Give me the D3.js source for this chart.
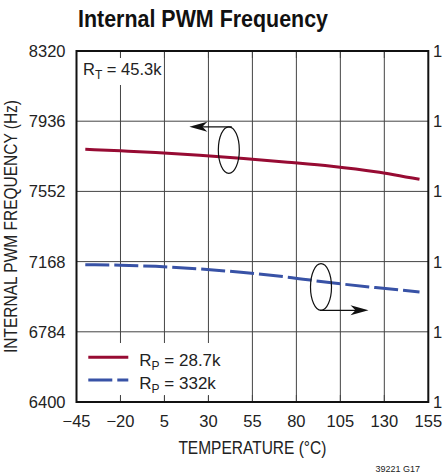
<!DOCTYPE html>
<html>
<head>
<meta charset="utf-8">
<script src="https://cdn.jsdelivr.net/npm/d3@7"></script>
<style>
  html, body { margin: 0; padding: 0; background: #fff; }
  svg { display: block; font-family: "Liberation Sans", Arial, Helvetica, sans-serif; }
</style>
</head>
<body>
<div id="chart"></div>
<script>
// Internal PWM frequency vs temperature

const temps = [-40, -20, 0, 25, 50, 75, 100, 125, 150];
const freqRp287k = [7782, 7774, 7765, 7750, 7732, 7712, 7690, 7660, 7618];
const freqRp332k = [7151, 7148, 7142, 7128, 7108, 7083, 7052, 7026, 7002];
const seriesNames = ['28.7k', '332k'];

const xTicks = [-45, -20, 5, 30, 55, 80, 105, 130, 155];
const yTicks = [6400, 6784, 7168, 7552, 7936, 8320];
const rightTickLabels = ['1', '1', '1', '1', '1', '1'];

// annotation ellipse centres, in data units
const annotations = [
    { t: 41.6, f: 7778, dir: -1 },
    { t: 94, f: 7029, dir: 1 }
];

const width = 443, height = 473;
const margin = { left: 76.5, right: 443 - 428.3, top: 51, bottom: 473 - 402 };

const svg = d3.select('#chart')
    .append('svg')
    .attr('width', width)
    .attr('height', height);

const x = d3.scaleLinear().domain([-45, 155]).range([margin.left, width - margin.right]);
const y = d3.scaleLinear().domain([6400, 8320]).range([height - margin.bottom, margin.top]);

const x0 = x.range()[0], x1 = x.range()[1];
const yTop = y.range()[1], yBot = y.range()[0];

// Title
svg.append('text')
    .attr('x', 78)
    .attr('y', 27)
    .attr('textLength', 250)
    .attr('lengthAdjust', 'spacingAndGlyphs')
    .style('font-size', '24px')
    .style('font-weight', 'bold')
    .style('fill', '#111')
    .text('Internal PWM Frequency');

// Grid
const grid = svg.append('g');
grid.selectAll('.vgrid')
    .data(xTicks.slice(1, -1))
    .enter()
    .append('line')
    .attr('x1', d => x(d)).attr('x2', d => x(d))
    .attr('y1', yTop).attr('y2', yBot)
    .attr('stroke', '#444')
    .attr('stroke-width', 1);

grid.selectAll('.hgrid')
    .data(yTicks.slice(1, -1))
    .enter()
    .append('line')
    .attr('x1', x0).attr('x2', x1)
    .attr('y1', d => y(d)).attr('y2', d => y(d))
    .attr('stroke', '#444')
    .attr('stroke-width', 1);

// white boxes behind the RT label and the legend
svg.append('rect')
    .attr('x', x0 + 1).attr('y', yTop + 7)
    .attr('width', 83).attr('height', 27)
    .attr('fill', '#fff');
svg.append('rect')
    .attr('x', x0 + 1).attr('y', 343)
    .attr('width', 165).attr('height', yBot - 6 - 343)
    .attr('fill', '#fff');

// tick marks at top and bottom
const ticks = svg.append('g');
xTicks.slice(1, -1).forEach(t => {
    ticks.append('line')
        .attr('x1', x(t)).attr('x2', x(t))
        .attr('y1', yTop).attr('y2', yTop + 7)
        .attr('stroke', '#444');
    ticks.append('line')
        .attr('x1', x(t)).attr('x2', x(t))
        .attr('y1', yBot - 7).attr('y2', yBot)
        .attr('stroke', '#444');
});

// Series
const line = d3.line()
    .x(d => x(d[0]))
    .y(d => y(d[1]))
    .curve(d3.curveMonotoneX);

svg.append('path')
    .datum(temps.map((t, i) => [t, freqRp287k[i]]))
    .attr('d', line)
    .attr('fill', 'none')
    .attr('stroke', '#970b33')
    .attr('stroke-width', 3);

svg.append('path')
    .datum(temps.map((t, i) => [t, freqRp332k[i]]))
    .attr('d', line)
    .attr('fill', 'none')
    .attr('stroke', '#3852a6')
    .attr('stroke-width', 3)
    .attr('stroke-dasharray', '24,5');

// Annotations (ellipse + arrow)
annotations.forEach(a => {
    const cx = x(a.t), cy = y(a.f);
    const rx = 10.5, ry = 23.3;
    svg.append('ellipse')
        .attr('cx', cx).attr('cy', cy)
        .attr('rx', rx).attr('ry', ry)
        .attr('fill', 'none')
        .attr('stroke', '#111')
        .attr('stroke-width', 1.2);

    const ay = a.dir < 0 ? cy - ry : cy + ry;
    const tip = a.dir < 0 ? cx - 39.5 : cx + 47.5;
    const start = a.dir < 0 ? cx + 3 : cx - 1;
    svg.append('line')
        .attr('x1', start).attr('x2', tip - a.dir * 10)
        .attr('y1', ay).attr('y2', ay)
        .attr('stroke', '#111')
        .attr('stroke-width', 1.2);
    const b = -a.dir;
    svg.append('path')
        .attr('d', `M${tip},${ay} L${tip + b * 18},${ay - 5} L${tip + b * 13},${ay} L${tip + b * 18},${ay + 5} Z`)
        .attr('fill', '#111');
});

// Frame
svg.append('rect')
    .attr('x', x0).attr('y', yTop)
    .attr('width', x1 - x0).attr('height', yBot - yTop)
    .attr('fill', 'none')
    .attr('stroke', '#111')
    .attr('stroke-width', 2);

// Y tick labels
svg.selectAll('.ylab')
    .data(yTicks)
    .enter()
    .append('text')
    .attr('x', 65.5)
    .attr('y', d => y(d))
    .attr('dy', '0.36em')
    .attr('text-anchor', 'end')
    .style('font-size', '16.5px')
    .style('fill', '#222')
    .text(d => d);

// right side labels (only the first digit fits the picture)
svg.selectAll('.rlab')
    .data(yTicks)
    .enter()
    .append('text')
    .attr('x', 433)
    .attr('y', d => y(d))
    .attr('dy', '0.36em')
    .style('font-size', '16.5px')
    .style('fill', '#222')
    .text((d, i) => rightTickLabels[i]);

// X tick labels
svg.selectAll('.xlab')
    .data(xTicks)
    .enter()
    .append('text')
    .attr('x', d => x(d))
    .attr('y', 426.5)
    .attr('text-anchor', 'middle')
    .style('font-size', '16.5px')
    .style('fill', '#222')
    .text(d => d < 0 ? '\u2212' + Math.abs(d) : d);

// Axis titles
svg.append('text')
    .attr('x', (x0 + x1) / 2)
    .attr('y', 454)
    .attr('text-anchor', 'middle')
    .attr('textLength', 148)
    .attr('lengthAdjust', 'spacingAndGlyphs')
    .style('font-size', '18px')
    .style('fill', '#222')
    .text('TEMPERATURE (°C)');

svg.append('text')
    .attr('transform', `translate(17.3, ${(yTop + yBot) / 2}) rotate(-90)`)
    .attr('text-anchor', 'middle')
    .attr('textLength', 253)
    .attr('lengthAdjust', 'spacingAndGlyphs')
    .style('font-size', '18px')
    .style('fill', '#222')
    .text('INTERNAL PWM FREQUENCY (Hz)');

// RT label
const rt = svg.append('text')
    .attr('x', 83)
    .attr('y', 75)
    .style('font-size', '16.5px')
    .style('fill', '#222');
rt.append('tspan').text('R');
rt.append('tspan').attr('dy', 4).style('font-size', '12px').text('T');
rt.append('tspan').attr('dy', -4).text(' = 45.3k');

// Legend
const legendRows = [
    { name: seriesNames[0], color: '#970b33', dash: null, y: 357.3 },
    { name: seriesNames[1], color: '#3852a6', dash: '24,5', y: 380 }
];
legendRows.forEach(r => {
    svg.append('line')
        .attr('x1', 88.3).attr('x2', 128.3)
        .attr('y1', r.y).attr('y2', r.y)
        .attr('stroke', r.color)
        .attr('stroke-width', 3)
        .attr('stroke-dasharray', r.dash);
    const t = svg.append('text')
        .attr('x', 139.3)
        .attr('y', r.y + 9)
        .style('font-size', '17px')
        .style('fill', '#222');
    t.append('tspan').text('R');
    t.append('tspan').attr('dy', 4).style('font-size', '12px').text('P');
    t.append('tspan').attr('dy', -4).text(' = ' + r.name);
});

// figure id
svg.append('text')
    .attr('x', 420)
    .attr('y', 472)
    .attr('text-anchor', 'end')
    .style('font-size', '9px')
    .style('fill', '#222')
    .text('39221 G17');
</script>
</body>
</html>
